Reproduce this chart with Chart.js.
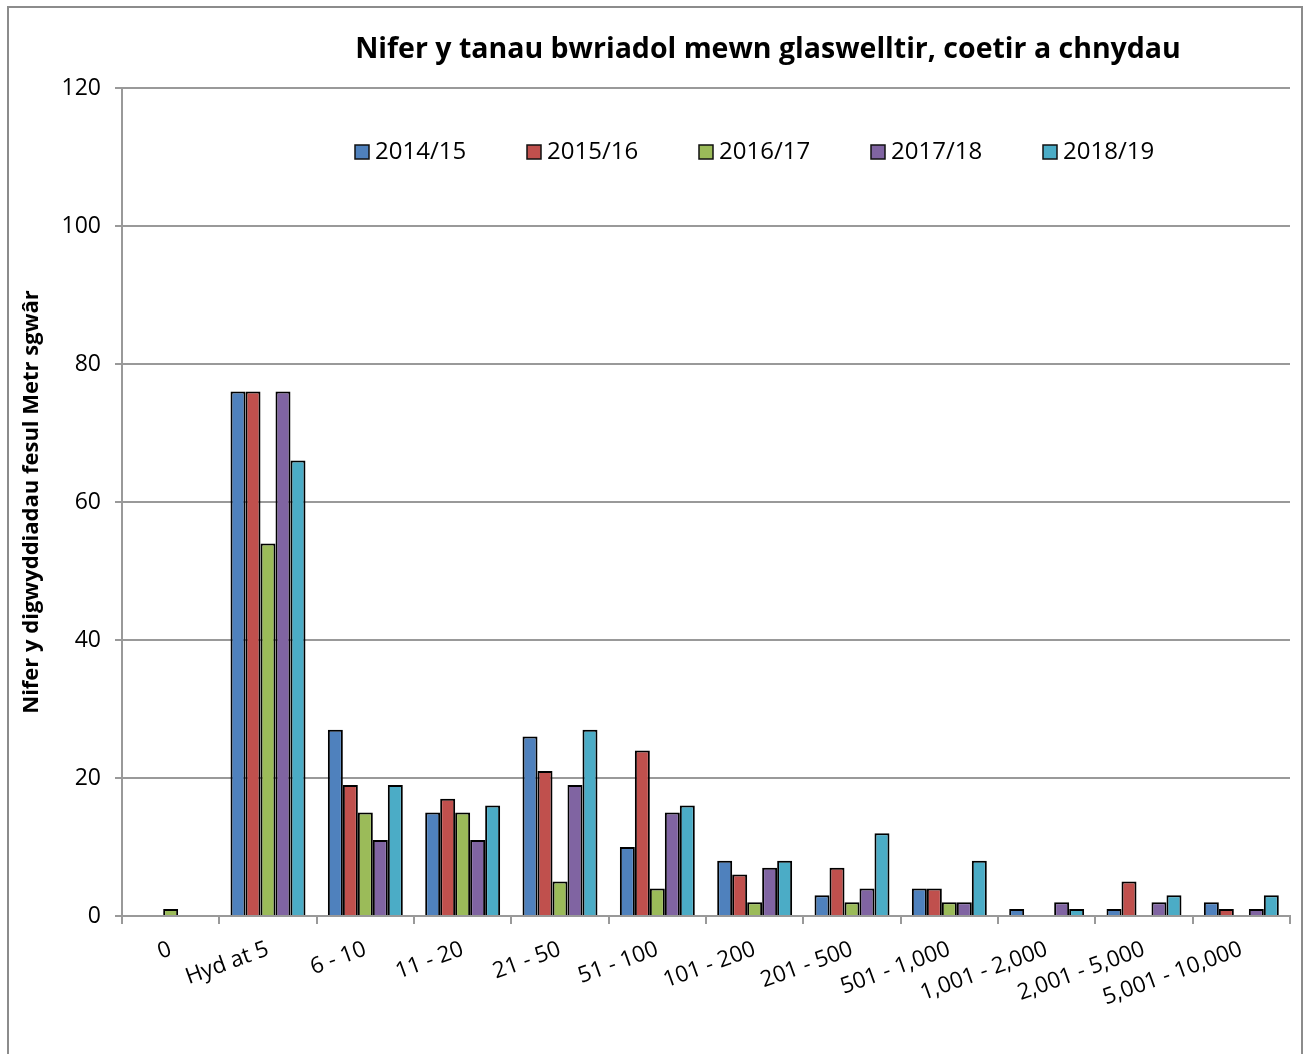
<!DOCTYPE html>
<html>
<head>
<meta charset="utf-8">
<script src="https://cdn.jsdelivr.net/npm/chart.js@4"></script>
<style>
  body { margin: 0; background: #fff; }
  #wrap { position: relative; width: 1306px; height: 1054px; }
</style>
</head>
<body>
<div id="wrap"><canvas id="tanau" width="1306" height="1054"></canvas></div>
<script>
var categories = ['0', 'Hyd at 5', '6 - 10', '11 - 20', '21 - 50', '51 - 100', '101 - 200',
                  '201 - 500', '501 - 1,000', '1,001 - 2,000', '2,001 - 5,000', '5,001 - 10,000'];
var series_labels = ['2014/15', '2015/16', '2016/17', '2017/18', '2018/19'];
var y_2014 = [0, 76, 27, 15, 26, 10, 8, 3, 4, 1, 1, 2];
var y_2015 = [0, 76, 19, 17, 21, 24, 6, 7, 4, 0, 5, 1];
var y_2016 = [1, 54, 15, 15, 5, 4, 2, 2, 2, 0, 0, 0];
var y_2017 = [0, 76, 11, 11, 19, 15, 7, 4, 2, 2, 2, 1];
var y_2018 = [0, 66, 19, 16, 27, 16, 8, 12, 8, 1, 3, 3];
var y_ticks = [0, 20, 40, 60, 80, 100, 120];

var title_text = 'Nifer y tanau bwriadol mewn glaswelltir, coetir a chnydau';
var y_title = 'Nifer y digwyddiadau fesul Metr sgwâr';

var colours = ['#4F81BD', '#C0504D', '#9BBB59', '#8064A2', '#4BACC6'];
var all_values = [y_2014, y_2015, y_2016, y_2017, y_2018];
var FONT = "'Open Sans', 'Noto Sans', sans-serif";

var datasets = series_labels.map(function (lbl, i) {
  return {
    label: lbl,
    data: all_values[i],
    backgroundColor: colours[i],
    borderColor: '#000',
    borderWidth: 2,
    borderSkipped: 'bottom',
    categoryPercentage: 0.77,
    barPercentage: 1.0
  };
});

// frame, title and in-plot legend
var extras = {
  id: 'extras',
  beforeDraw: function (chart) {
    var ctx = chart.ctx;
    ctx.save();
    ctx.strokeStyle = '#8c8c8c';
    ctx.lineWidth = 2;
    ctx.strokeRect(8, 7, 1294, 1070);
    ctx.restore();
  },
  afterDraw: function (chart) {
    var ctx = chart.ctx;
    ctx.save();
    ctx.fillStyle = '#000';
    ctx.font = "bold 28.5px " + FONT;
    ctx.textAlign = 'center';
    ctx.textBaseline = 'middle';
    ctx.fillText(title_text, 768, 50);

    ctx.font = "24px " + FONT;
    ctx.textAlign = 'left';
    chart.data.datasets.forEach(function (ds, i) {
      var x = 355 + i * 172;
      ctx.fillStyle = ds.backgroundColor;
      ctx.fillRect(x, 145, 14, 14);
      ctx.strokeStyle = '#111';
      ctx.lineWidth = 1.5;
      ctx.strokeRect(x, 145, 14, 14);
      ctx.fillStyle = '#000';
      ctx.fillText(ds.label, x + 20, 152);
    });
    ctx.restore();
  }
};

var chart = new Chart(document.getElementById('tanau'), {
  type: 'bar',
  data: { labels: categories, datasets: datasets },
  plugins: [extras],
  options: {
    responsive: false,
    animation: false,
    layout: { padding: { top: 88, left: 16, right: 16, bottom: 0 } },
    plugins: {
      legend: { display: false },
      title: { display: false },
      tooltip: { enabled: false }
    },
    scales: {
      x: {
        grid: { display: true, drawOnChartArea: false, offset: true, tickLength: 8, color: '#999', lineWidth: 2 },
        border: { color: '#999', width: 2 },
        ticks: {
          color: '#000', font: { family: FONT, size: 22.5 },
          minRotation: 20, maxRotation: 20, autoSkip: false, padding: 12
        },
        afterFit: function (scale) { scale.height = 1054 - 916; }
      },
      y: {
        min: 0, max: 120,
        afterBuildTicks: function (scale) {
          scale.ticks = y_ticks.map(function (v) { return { value: v }; });
        },
        grid: { color: '#999', lineWidth: 2, tickLength: 7 },
        border: { color: '#999', width: 2 },
        ticks: { color: '#000', font: { family: FONT, size: 23 }, padding: 14 },
        title: {
          display: true, text: y_title, color: '#000',
          font: { family: FONT, size: 22, weight: 'bold' }, padding: { top: 3, bottom: 0 }
        },
        afterFit: function (scale) { scale.width = 122 - 16; }
      }
    }
  }
});
</script>
</body>
</html>
